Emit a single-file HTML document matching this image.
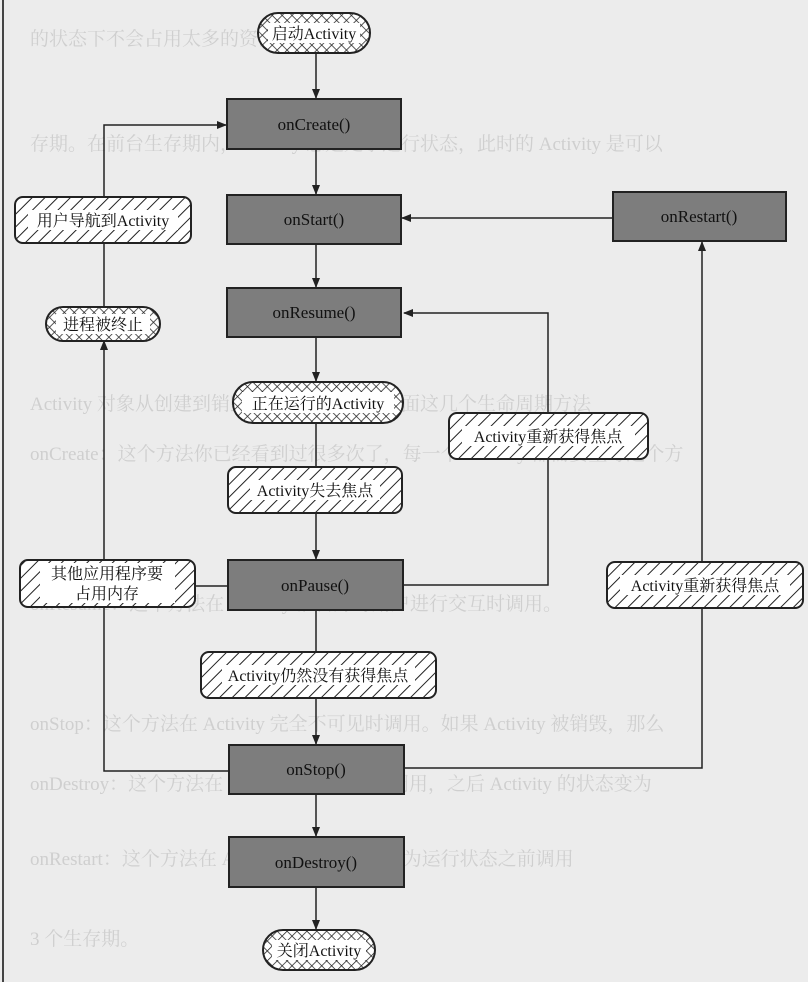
<!DOCTYPE html>
<html><head><meta charset="utf-8"><style>
html,body{margin:0;padding:0;background:#ececec;}
svg{display:block}
text{font-family:"Liberation Serif","Noto Serif CJK SC",serif;}
</style></head><body>
<svg width="808" height="982" viewBox="0 0 808 982" xmlns="http://www.w3.org/2000/svg">
<defs>
<pattern id="hatch" width="9" height="9" patternUnits="userSpaceOnUse" patternTransform="rotate(45)">
<rect width="9" height="9" fill="#fff"/><line x1="0" y1="0" x2="0" y2="9" stroke="#222" stroke-width="2"/>
</pattern>
<pattern id="cross" width="7" height="7" patternUnits="userSpaceOnUse" patternTransform="rotate(45)">
<rect width="7" height="7" fill="#fff"/><line x1="0" y1="0" x2="0" y2="7" stroke="#222" stroke-width="1.5"/><line x1="0" y1="0" x2="7" y2="0" stroke="#222" stroke-width="1.5"/>
</pattern>
<marker id="ar" markerWidth="10" markerHeight="10" refX="9" refY="4" orient="auto" markerUnits="userSpaceOnUse">
<path d="M0,0 L10,4 L0,8 Z" fill="#222"/></marker>
</defs>
<rect width="808" height="982" fill="#ececec"/>
<line x1="3" y1="0" x2="3" y2="982" stroke="#444" stroke-width="2"/>
<g fill="#cfcfcf" font-size="19" font-family="Liberation Sans, Noto Sans CJK SC, sans-serif">
<text x="30" y="45">的状态下不会占用太多的资源。</text>
<text x="30" y="150">存期。在前台生存期内，Activity 总是处于运行状态，此时的 Activity 是可以</text>
<text x="30" y="410">Activity 对象从创建到销毁的过程中会经历下面这几个生命周期方法</text>
<text x="30" y="460">onCreate：这个方法你已经看到过很多次了，每一个 Activity 都需要重写这个方</text>
<text x="30" y="610">onResume：这个方法在 Activity 准备好与用户进行交互时调用。</text>
<text x="30" y="730">onStop：这个方法在 Activity 完全不可见时调用。如果 Activity 被销毁，那么</text>
<text x="30" y="790">onDestroy：这个方法在 Activity 被销毁之前调用，之后 Activity 的状态变为</text>
<text x="30" y="865">onRestart：这个方法在 Activity 由停止状态变为运行状态之前调用</text>
<text x="30" y="945">3 个生存期。</text>
</g>
<g stroke="#222" stroke-width="1.5" fill="none">
<line x1="316" y1="53" x2="316" y2="98" marker-end="url(#ar)"/>
<line x1="316" y1="149" x2="316" y2="194" marker-end="url(#ar)"/>
<line x1="316" y1="244" x2="316" y2="287" marker-end="url(#ar)"/>
<line x1="316" y1="337" x2="316" y2="381" marker-end="url(#ar)"/>
<line x1="316" y1="423" x2="316" y2="467"/>
<line x1="316" y1="513" x2="316" y2="559" marker-end="url(#ar)"/>
<line x1="316" y1="698" x2="316" y2="744" marker-end="url(#ar)"/>
<line x1="316" y1="794" x2="316" y2="836" marker-end="url(#ar)"/>
<line x1="316" y1="887" x2="316" y2="929" marker-end="url(#ar)"/>
<line x1="316" y1="610" x2="316" y2="652"/>
<polyline points="104,197 104,125 226,125" marker-end="url(#ar)"/>
<line x1="104" y1="243" x2="104" y2="307"/>
<line x1="104" y1="560" x2="104" y2="341" marker-end="url(#ar)"/>
<polyline points="104,607 104,771 229,771"/>
<line x1="195" y1="586" x2="228" y2="586"/>
<line x1="613" y1="218" x2="402" y2="218" marker-end="url(#ar)"/>
<polyline points="403,585 548,585 548,459"/>
<polyline points="548,413 548,313 404,313" marker-end="url(#ar)"/>
<line x1="702" y1="562" x2="702" y2="242" marker-end="url(#ar)"/>
<polyline points="702,608 702,768 405,768"/>
</g>
<!-- dark boxes -->
<g stroke="#222" stroke-width="2" fill="#7d7d7d">
<rect x="227" y="99" width="174" height="50"/>
<rect x="227" y="195" width="174" height="49"/>
<rect x="227" y="288" width="174" height="49"/>
<rect x="613" y="192" width="173" height="49"/>
<rect x="228" y="560" width="175" height="50"/>
<rect x="229" y="745" width="175" height="49"/>
<rect x="229" y="837" width="175" height="50"/>
</g>
<g font-size="17" text-anchor="middle" fill="#111">
<text x="314" y="130">onCreate()</text>
<text x="314" y="225">onStart()</text>
<text x="314" y="318">onResume()</text>
<text x="699" y="222">onRestart()</text>
<text x="315" y="591">onPause()</text>
<text x="316" y="775">onStop()</text>
<text x="316" y="868">onDestroy()</text>
</g>
<!-- hatched boxes -->
<g stroke="#222" stroke-width="2" fill="url(#hatch)">
<rect x="15" y="197" width="176" height="46" rx="8"/>
<rect x="449" y="413" width="199" height="46" rx="8"/>
<rect x="228" y="467" width="174" height="46" rx="8"/>
<rect x="20" y="560" width="175" height="47" rx="8"/>
<rect x="607" y="562" width="196" height="46" rx="8"/>
<rect x="201" y="652" width="235" height="46" rx="8"/>
</g>
<!-- crosshatch capsules -->
<g stroke="#222" stroke-width="2" fill="url(#cross)">
<rect x="258" y="13" width="112" height="40" rx="20"/>
<rect x="46" y="307" width="114" height="34" rx="17"/>
<rect x="233" y="382" width="170" height="41" rx="20"/>
<rect x="263" y="930" width="112" height="40" rx="20"/>
</g>
<g fill="#fff">
<rect x="268" y="23" width="92" height="20"/>
<rect x="56" y="314" width="94" height="20"/>
<rect x="242" y="392" width="152" height="21"/>
<rect x="272" y="940" width="94" height="20"/>
<rect x="28" y="210" width="150" height="20"/>
<rect x="462" y="426" width="173" height="20"/>
<rect x="250" y="480" width="130" height="20"/>
<rect x="40" y="563" width="135" height="40"/>
<rect x="620" y="575" width="170" height="20"/>
<rect x="222" y="665" width="193" height="20"/>
</g>
<g font-size="16" text-anchor="middle" fill="#111">
<text x="314" y="39">启动Activity</text>
<text x="103" y="330">进程被终止</text>
<text x="318" y="409">正在运行的Activity</text>
<text x="319" y="956">关闭Activity</text>
<text x="103" y="226">用户导航到Activity</text>
<text x="548" y="442">Activity重新获得焦点</text>
<text x="315" y="496">Activity失去焦点</text>
<text x="107" y="579">其他应用程序要</text>
<text x="107" y="599">占用内存</text>
<text x="705" y="591">Activity重新获得焦点</text>
<text x="318" y="681">Activity仍然没有获得焦点</text>
</g>
</svg>
</body></html>
